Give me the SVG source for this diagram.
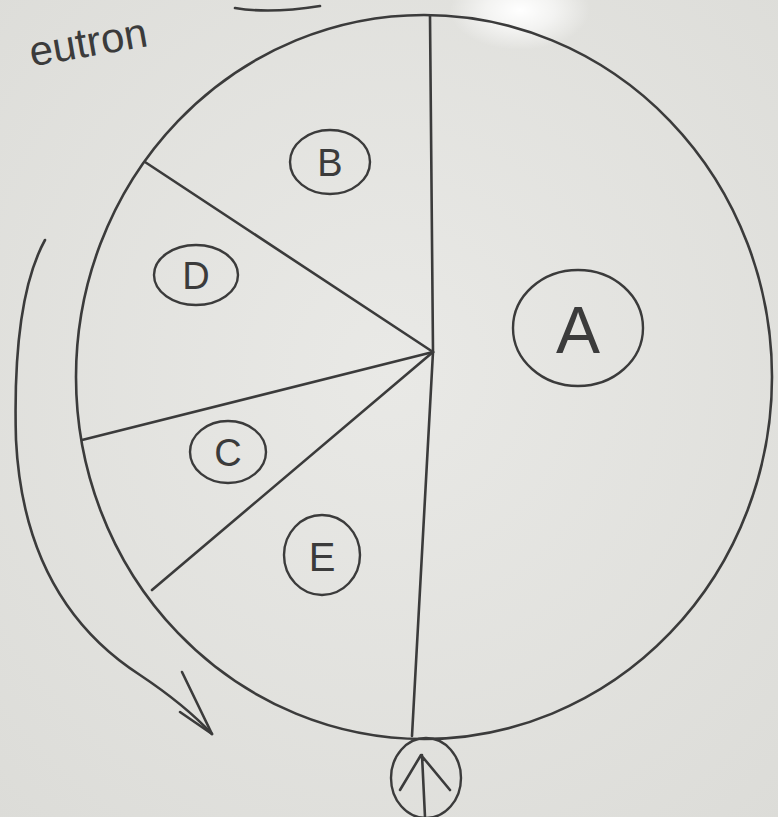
<svg xmlns="http://www.w3.org/2000/svg" width="778" height="817" viewBox="0 0 778 817">
<style>
.ln{fill:none;stroke:#3b3b3b;stroke-width:2.6;stroke-linecap:round;stroke-linejoin:round}
.lb{fill:none;stroke:#3b3b3b;stroke-width:2.4}
.tx{font-family:"Liberation Sans",Arial,sans-serif;fill:#3b3b3b;text-anchor:middle;dominant-baseline:central}
</style>
<defs>
<radialGradient id="bg" cx="0.5" cy="0.45" r="0.75">
<stop offset="0" stop-color="#e9e9e6"/>
<stop offset="1" stop-color="#dcdcd8"/>
</radialGradient>
<radialGradient id="glare" cx="0.5" cy="0.5" r="0.5">
<stop offset="0" stop-color="#ffffff" stop-opacity="1"/>
<stop offset="0.5" stop-color="#ffffff" stop-opacity="0.6"/>
<stop offset="1" stop-color="#ffffff" stop-opacity="0"/>
</radialGradient>
</defs>
<rect width="778" height="817" fill="url(#bg)"/>
<ellipse cx="520" cy="10" rx="70" ry="40" fill="url(#glare)"/>
<text class="tx" x="88" y="42" font-size="42" transform="rotate(-10 88 42)">eutron</text>
<path class="ln" d="M235,8 Q270,14 320,6"/>

<g id="pie">
<ellipse class="ln" cx="424" cy="377" rx="348" ry="362"/>
</g>
<g id="connectors">
<path class="ln" d="M430,16 L433,352 L412,736"/>
<path class="ln" d="M433,352 L145,162"/>
<path class="ln" d="M433,352 L82,440"/>
<path class="ln" d="M433,352 L152,590"/>
<path class="ln" d="M45,240 Q12,300 16,440 Q24,600 140,675 Q185,705 212,734"/>
<path class="ln" d="M182,672 L212,734 L180,712"/>
</g>
<g id="B"><ellipse class="lb" cx="330" cy="162" rx="40" ry="32"/><text class="tx" x="330" y="163" font-size="38">B</text></g>
<g id="D"><ellipse class="lb" cx="196" cy="275" rx="42" ry="30"/><text class="tx" x="196" y="276" font-size="38">D</text></g>
<g id="C"><ellipse class="lb" cx="228" cy="452" rx="38" ry="31"/><text class="tx" x="228" y="453" font-size="38">C</text></g>
<g id="E"><ellipse class="lb" cx="322" cy="555" rx="38" ry="40"/><text class="tx" x="322" y="557" font-size="40">E</text></g>
<g id="A"><ellipse class="lb" cx="578" cy="328" rx="65" ry="58"/><text class="tx" x="578" y="330" font-size="66">A</text></g>
<g id="arrow-node">
<ellipse class="lb" cx="426" cy="778" rx="35" ry="40"/>
<path class="ln" d="M422,755 L425,817 M400,790 L421,755 L450,790"/>
</g>
</svg>
